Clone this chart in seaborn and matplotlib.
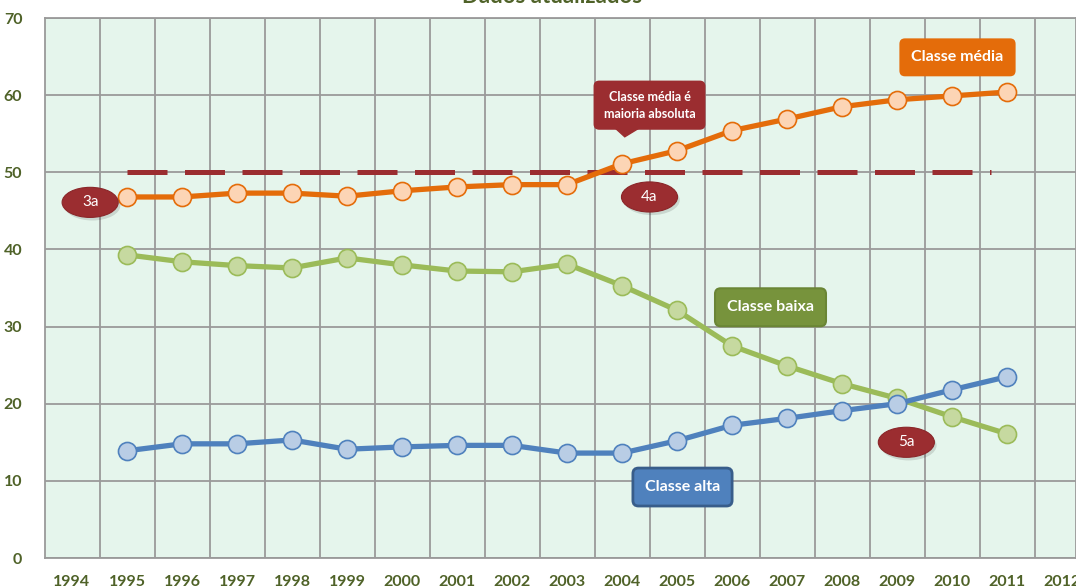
import numpy as np
import pandas as pd
import matplotlib
matplotlib.use("Agg")
import matplotlib.pyplot as plt
import seaborn as sns
from matplotlib.patches import Ellipse, Polygon

# ---------------- data ----------------
years = list(range(1995, 2012))
classe_media = [46.8, 46.8, 47.3, 47.3, 46.9, 47.6, 48.1, 48.4, 48.4,
                51.1, 52.8, 55.4, 56.9, 58.5, 59.4, 59.9, 60.4]
classe_baixa = [39.3, 38.4, 37.9, 37.6, 38.9, 38.0, 37.2, 37.1, 38.1,
                35.3, 32.1, 27.5, 24.9, 22.6, 20.7, 18.3, 16.1]
classe_alta = [13.9, 14.8, 14.8, 15.3, 14.1, 14.4, 14.6, 14.6, 13.6,
               13.6, 15.2, 17.2, 18.1, 19.1, 20.0, 21.8, 23.5]
axis_years = list(range(1994, 2013))
y_ticks = [0, 10, 20, 30, 40, 50, 60, 70]
majority_level = 50
majority_span = [1995, 2010.7]
series_names = ["Classe média", "Classe baixa", "Classe alta"]
callout_text = "Classe média é\nmaioria absoluta"
stage_labels = ["3a", "4a", "5a"]
title_text = "Dados atualizados"

# ---------------- style ----------------
sns.set_style("white")
plt.rcParams["font.family"] = ["Lato", "DejaVu Sans"]

TXT = "#4F6228"
GRID = "#9A9A9A"
DARKRED = "#9B2D30"

fig = plt.figure(figsize=(10.76, 5.88), dpi=100)
W, H = 1076, 588
ax = fig.add_axes([44.5 / W, 30 / H, (W - 44.5) / W, 540 / H])
ax.set_facecolor("#E5F5EC")

df = pd.DataFrame({"ano": years,
                   "Classe média": classe_media,
                   "Classe baixa": classe_baixa,
                   "Classe alta": classe_alta})

styles = {
    "Classe média": ("#E46C0A", "#FCD5B5"),
    "Classe baixa": ("#9BBB59", "#C6D9A0"),
    "Classe alta": ("#4F81BD", "#B9CDE5"),
}

# dashed majority line
ax.plot(majority_span, [majority_level, majority_level], color=DARKRED,
        lw=3.6, dashes=(8, 3.5), solid_capstyle="butt", zorder=2)

for name in series_names:
    line_c, face_c = styles[name]
    sns.lineplot(data=df, x="ano", y=name, ax=ax, color=line_c, lw=3.8,
                 marker="o", markersize=13, markerfacecolor=face_c,
                 markeredgecolor=line_c, markeredgewidth=1.2, zorder=3,
                 legend=False)

# axes
ax.set_xlim(1993.5, 1993.5 + (W - 44.5) / 55)
ax.set_ylim(0, 70)
ax.set_xticks(axis_years)
ax.set_xticks(np.arange(1994.5, 2012.5, 1), minor=True)
ax.set_yticks(y_ticks)
ax.set_xlabel("")
ax.set_ylabel("")
ax.grid(False)
ax.grid(which="minor", axis="x", color=GRID, lw=1.3, zorder=0)
ax.grid(which="major", axis="y", color=GRID, lw=1.3, zorder=0)
ax.set_axisbelow(True)
for s in ax.spines.values():
    s.set_color(GRID)
    s.set_linewidth(1.3)
ax.tick_params(axis="both", which="both", length=0)
ax.tick_params(axis="x", pad=12)
ax.tick_params(axis="y", pad=16)
for lab in ax.get_xticklabels() + ax.get_yticklabels():
    lab.set_fontweight("bold")
    lab.set_color(TXT)
    lab.set_fontsize(11.5)

# series label boxes
def label_box(x, y, text, fc, ec, lw=0):
    ax.text(x, y, text, ha="center", va="center", color="white",
            fontsize=11.5, fontweight="bold", zorder=6,
            bbox=dict(boxstyle="round,pad=0.75,rounding_size=0.35",
                      fc=fc, ec=ec, lw=lw))

label_box(2010.1, 64.9, series_names[0], "#E46C0A", "#E46C0A")
label_box(2006.7, 32.5, series_names[1], "#77933C", "#6A8535", 1.5)
label_box(2005.1, 9.2, series_names[2], "#4F81BD", "#385D8A", 2.0)

# callout
ax.text(2004.5, 58.7, callout_text, ha="center", va="center", color="white",
        fontsize=9, fontweight="bold", linespacing=1.5, zorder=6,
        bbox=dict(boxstyle="round,pad=0.75,rounding_size=0.4",
                  fc=DARKRED, ec=DARKRED))
ax.add_patch(Polygon([[2003.85, 55.9], [2004.35, 55.9], [2004.05, 54.6]],
                     closed=True, fc=DARKRED, ec=DARKRED, zorder=6))

# stage ellipses
stage_pos = [(1994.33, 46.1), (2004.5, 46.8), (2009.17, 15.0)]
for (x, y), t in zip(stage_pos, stage_labels):
    ax.add_patch(Ellipse((x + 0.04, y - 0.4), 1.02, 3.9, fc="#000000",
                         alpha=0.12, ec="none", zorder=5))
    ax.add_patch(Ellipse((x, y), 1.02, 3.9, fc=DARKRED, ec="#8A2629",
                         lw=0.8, zorder=6))
    ax.text(x, y, t, ha="center", va="center", color="white",
            fontsize=11, zorder=7)

# partially visible title at top (cut off by the figure edge, as in the reference)
fig.text(0.513, 1 - 3 / H, title_text, ha="center", va="baseline",
         color=TXT, fontsize=16, fontweight="bold")

fig.savefig("out.png", dpi=100)
